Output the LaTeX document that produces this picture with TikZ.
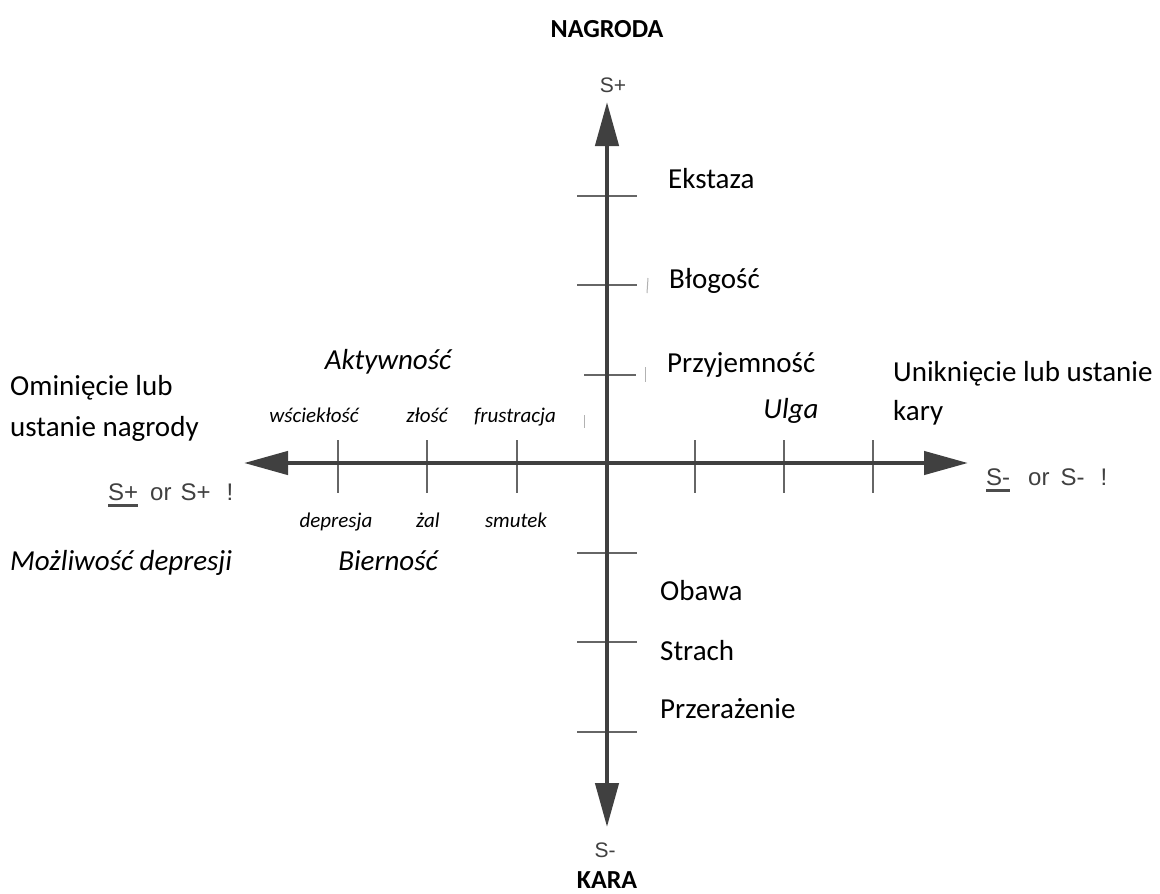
\documentclass[tikz,border=0pt]{standalone}
\usepackage{fontspec}
\setmainfont{Carlito}
\newfontfamily\arialfont{Liberation Sans}
\usetikzlibrary{arrows.meta}

% rozmiary pisma
\newcommand\duzy{\fontsize{29}{35}\selectfont}
\newcommand\maly{\fontsize{21}{25}\selectfont}
\newcommand\bodziec{\arialfont\fontsize{24}{28}\selectfont}

\tikzset{
  os/.style={line width=4.5pt, color=black!75,
    {Triangle[length=44pt,width=23pt]}-{Triangle[length=44pt,width=23pt]}},
  kreska/.style={line width=2pt, color=black!60},
  slad/.style={line width=1pt, color=black!30},
  podkreslenie/.style={line width=3pt, color=black!70},
  napis/.style={inner sep=0pt, text=black, font=\duzy},
  drobny/.style={inner sep=0pt, text=black, font=\maly\itshape, anchor=base},
  bod/.style={inner sep=0pt, text=black!75, font=\bodziec, anchor=west},
}

\begin{document}
\begin{tikzpicture}[x=1pt,y=-1pt]
    % Tlo i ramka
    \fill[white] (0,0) rectangle (1160,894);
    \useasboundingbox (0,0) rectangle (1160,894);

    % Konce osi
    \coordinate (gora) at (607,102);
    \coordinate (dol) at (607,827);
    \coordinate (lewo) at (244,463);
    \coordinate (prawo) at (968,463);

    % Podzialki
    \foreach \x in {338,427,517,695,784,873}
        \draw[kreska] (\x,440) -- (\x,493);
    \foreach \y in {196,285,553,642,732}
        \draw[kreska] (577,\y) -- (637,\y);
    \draw[kreska] (584,375) -- (636,375);

    % Osie
    \draw[os] (dol) -- (gora);
    \draw[os] (lewo) -- (prawo);

    % Slady ze skanu
    \draw[slad] (648,278) -- (647,293);
    \draw[slad] (645,367) -- (645,382);
    \draw[slad] (584,415) -- (584,428);

    % Bieguny
    \node[napis, font=\fontsize{26}{30}\selectfont\bfseries] (nagroda) at (607,29) {NAGRODA};
    \node[bod, anchor=center, font=\fontsize{21}{24}\selectfont\arialfont] (splus) at (613,85) {S+};
    \node[bod, anchor=center, font=\fontsize{21}{24}\selectfont\arialfont] (sminus) at (605,850) {S-};
    \node[napis, font=\fontsize{26}{30}\selectfont\bfseries] (kara) at (607,880) {KARA};

    % Emocje na osi pionowej
    \node[napis, anchor=base west] (ekstaza) at (668,188) {Ekstaza};
    \node[napis, anchor=base west] (blogosc) at (669,288) {Błogość};
    \node[napis, anchor=base west] (przyjemnosc) at (667,372) {Przyjemność};
    \node[napis, anchor=base west] (obawa) at (660,600) {Obawa};
    \node[napis, anchor=base west] (strach) at (660,660) {Strach};
    \node[napis, anchor=base west] (przerazenie) at (660,718) {Przerażenie};

    % Prawa strona
    \node[napis, anchor=base, font=\duzy\itshape] (ulga) at (791,418) {Ulga};
    \node[napis, anchor=base west] (unikniecie) at (893,381) {Uniknięcie lub ustanie};
    \node[napis, anchor=base west] (kary) at (893,420) {kary};
    \node[bod] (sminus1) at (986,477) {S-};
    \node[bod] (sminusor) at (1028,477) {or\hspace{11pt}S-\hspace{16pt}!};
    \draw[podkreslenie] ([yshift=-5pt]sminus1.south west) -- ([yshift=-5pt]sminus1.south east);

    % Lewa strona
    \node[napis, anchor=base west] (ominiecie) at (10,395) {Ominięcie lub};
    \node[napis, anchor=base west] (ustanie) at (10,436) {ustanie nagrody};
    \node[bod] (splus1) at (108,492) {S+};
    \node[bod] (splusor) at (150,492) {or\hspace{9pt}S+\hspace{16pt}!};
    \draw[podkreslenie] ([yshift=-5pt]splus1.south west) -- ([yshift=-5pt]splus1.south east);
    \node[napis, anchor=base west, font=\duzy\itshape] (mozliwosc) at (10,570) {Możliwość depresji};
    \node[napis, anchor=base, font=\duzy\itshape] (aktywnosc) at (388,369) {Aktywność};
    \node[napis, anchor=base, font=\duzy\itshape] (biernosc) at (388,570) {Bierność};

    % Etykiety podzialek
    \node[drobny] (wsciek) at (314,422) {wściekłość};
    \node[drobny] (zlosc) at (427,422) {złość};
    \node[drobny] (frustr) at (515,422) {frustracja};
    \node[drobny] (depresja) at (336,527) {depresja};
    \node[drobny] (zal) at (428,527) {żal};
    \node[drobny] (smutek) at (516,527) {smutek};
\end{tikzpicture}
\end{document}
